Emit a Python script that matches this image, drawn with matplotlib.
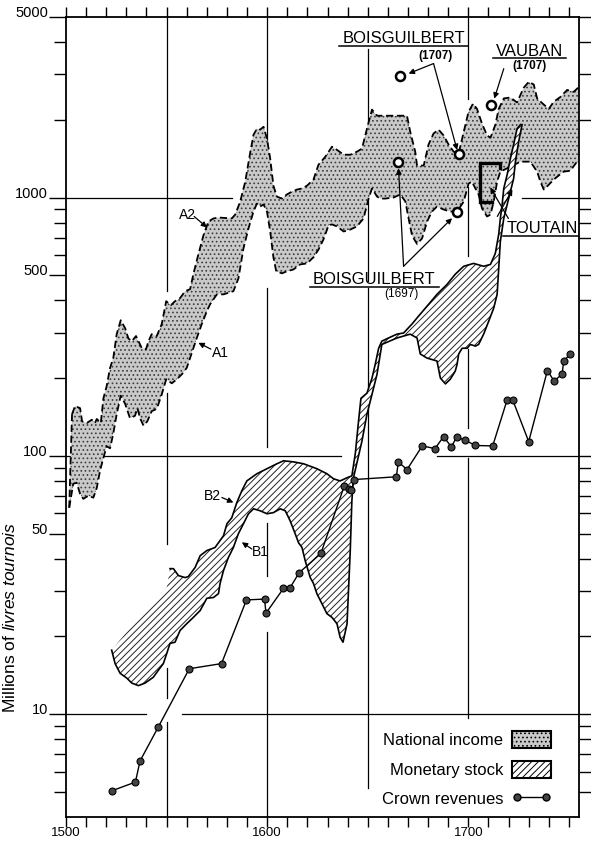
import numpy as np
import matplotlib
matplotlib.use('Agg')
import matplotlib.pyplot as plt
from matplotlib.patches import Patch
from matplotlib.lines import Line2D
from matplotlib.ticker import FixedLocator, MultipleLocator, NullFormatter, FuncFormatter

plt.rcParams['font.family'] = ['Liberation Sans', 'DejaVu Sans']
plt.rcParams['mathtext.fontset'] = 'custom'
plt.rcParams['mathtext.rm'] = 'Liberation Sans'
plt.rcParams['mathtext.it'] = 'Liberation Sans:italic'
plt.rcParams['hatch.linewidth'] = 0.7

# National income, upper estimate (A2), millions of livres tournois
years_a2 = [1503, 1504.5, 1507, 1508, 1510.3, 1512.8, 1514.4, 1515.3, 1517.3, 1518.6,
            1520.2, 1521.9, 1523.5, 1525.2, 1527.2, 1529.4, 1531, 1532.7, 1534.8, 1537.7,
            1539.8, 1541, 1542.6, 1545.1, 1547.6, 1549.8, 1552.1, 1554.2, 1556.7, 1559.2,
            1561.7, 1563.3, 1565.8, 1568.3, 1570.8, 1573.3, 1575.8, 1582.4, 1584.1, 1586.6,
            1589.1, 1591.5, 1593.2, 1594.9, 1596.5, 1598.2, 1599.9, 1601.5, 1603.1, 1604.8,
            1607.3, 1609.8, 1612.3, 1614.8, 1617.3, 1619.8, 1623, 1625.5, 1628.9, 1632.2,
            1634.7, 1638, 1641.3, 1644.6, 1647.1, 1649.6, 1652.1, 1654.6, 1657.9, 1662.8,
            1669.5, 1671.1, 1673.6, 1674.5, 1677.8, 1680.2, 1682.7, 1685.2, 1687.7, 1690.2,
            1692.7, 1695.2, 1697.7, 1700.1, 1702.3, 1704.3, 1706.8, 1709.3, 1711, 1713.4,
            1715.1, 1717.6, 1720.9, 1724.2, 1727.5, 1730, 1732.5, 1734.2, 1737.5, 1740,
            1742.4, 1745.8, 1749.1, 1752.4, 1755]
income_a2 = [145, 156, 153, 136, 134, 138, 134, 139, 134, 167,
             186, 219, 239, 296, 335, 312, 285, 278, 291, 261,
             259, 278, 296, 291, 324, 397, 383, 397, 408, 434,
             442, 505, 603, 713, 808, 830, 837, 830, 859, 965,
             1153, 1483, 1750, 1847, 1832, 1879, 1690, 1416, 1112, 1009,
             991, 1028, 1054, 1074, 1084, 1112, 1173, 1340, 1439, 1573,
             1530, 1465, 1465, 1505, 1546, 1847, 2190, 2074, 2074, 2074,
             2074, 1797, 1505, 1330, 1330, 1603, 1770, 1832, 1740, 1603,
             1505, 1483, 1797, 2147, 2308, 2205, 1930, 1740, 1705, 1911,
             2205, 2420, 2440, 2334, 2660, 2805, 2740, 2420, 2290, 2205,
             2347, 2453, 2610, 2566, 2683]

# National income, lower estimate (A1)
years_a1 = [1501.6, 1503.6, 1505.3, 1507, 1508.6, 1511.1, 1513.6, 1515.3, 1516.9, 1518.6,
            1520.2, 1521.9, 1523.5, 1525.2, 1527.2, 1529.4, 1531.8, 1534.3, 1535.5, 1536.8,
            1538.5, 1540.4, 1542.6, 1545.1, 1547.6, 1549.8, 1552.6, 1555.1, 1557.6, 1560,
            1562.5, 1565, 1567.5, 1570, 1571.6, 1575, 1578.3, 1583.2, 1585.7, 1588.2,
            1590.7, 1593.2, 1594.9, 1596.5, 1598.2, 1599.9, 1601.5, 1603.1, 1604.5, 1607.3,
            1609.8, 1613.1, 1616.4, 1619.8, 1623, 1625.5, 1628, 1630.5, 1632.2, 1634.7,
            1638, 1641.3, 1644.6, 1647.9, 1650.4, 1652.1, 1654.6, 1656.2, 1658.7, 1662.8,
            1666.2, 1668.7, 1670.3, 1672, 1674.5, 1677, 1679.5, 1681.9, 1684.4, 1687.7,
            1691, 1694.4, 1697.7, 1700.1, 1701.8, 1703.5, 1705.1, 1706.8, 1709.3, 1711,
            1712.6, 1714.3, 1715.9, 1720.9, 1725.9, 1730.8, 1734.2, 1735.8, 1737.5, 1740,
            1742.4, 1744.9, 1747.4, 1750.7, 1754, 1755]
income_a1 = [63, 78, 78.7, 71.3, 68.2, 70.1, 68.9, 75.2, 87.5, 98.2,
             109, 107, 122, 145, 171, 159, 140, 143, 153, 140,
             131, 136, 149, 152, 173, 198, 191, 198, 207, 219,
             250, 286, 324, 363, 386, 422, 422, 434, 486, 635,
             759, 883, 948, 923, 940, 883, 739, 587, 518, 509,
             518, 527, 551, 556, 587, 629, 689, 780, 787, 773,
             739, 752, 773, 830, 991, 1084, 1009, 991, 991, 1000,
             1028, 965, 830, 713, 661, 695, 808, 883, 923, 899,
             883, 883, 965, 1132, 1153, 1084, 1028, 907, 845, 859,
             965, 1153, 1260, 1317, 1377, 1377, 1260, 1153, 1074, 1122,
             1173, 1217, 1260, 1270, 1377, 1350]

# Monetary stock, upper estimate (B2)
years_b2 = [1522.7, 1533.5, 1541.8, 1550.1, 1551.7, 1553.4, 1555.9, 1559.2, 1560.8, 1564.2,
            1566.7, 1570, 1574.1, 1578.3, 1580, 1582.4, 1584.9, 1587.4, 1589.9, 1594.9,
            1599.9, 1604.8, 1608.1, 1613.1, 1618.1, 1624.7, 1629.7, 1633, 1636.3, 1639.7,
            1642.1, 1643.8, 1645.4, 1646.6, 1649.6, 1652.1, 1653.7, 1655.4, 1657, 1660.3,
            1664.5, 1667.8, 1672, 1675.3, 1679.5, 1684.4, 1689.4, 1693.5, 1697.7, 1702.6,
            1707.6, 1711, 1713.4, 1715.1, 1715.9, 1716.8, 1717.6, 1719.3, 1720.9, 1722.5,
            1724.2, 1725.9]
stock_b2 = [17.7, 22.4, 26.4, 30.9, 36.6, 36.6, 34.4, 33.8, 34.1, 37,
            41.1, 43, 44.2, 49.1, 54.6, 57.6, 65.9, 73.3, 80, 85.3,
            89.2, 93.2, 95.7, 94.8, 93.2, 89.2, 85.3, 81.5, 80, 82.3,
            83.7, 102, 136, 167, 175, 200, 226, 261, 278, 286,
            296, 299, 324, 348, 380, 422, 461, 505, 542, 556,
            542, 551, 608, 722, 830, 940, 1084, 1228, 1416, 1603,
            1847, 1916]

# Monetary stock, lower estimate (B1)
years_b1 = [1522.7, 1524.4, 1526.9, 1530.2, 1532.7, 1536, 1539.3, 1543.4, 1545.9, 1548.4, 1550.1,
            1551.7, 1554.2, 1556.7, 1560, 1563.3, 1566.7, 1570, 1573.3, 1575.8, 1576.6,
            1578.3, 1580.7, 1583.2, 1585.7, 1588.2, 1590.7, 1593.2, 1596.5, 1599.9, 1603.1,
            1606.5, 1609, 1611.4, 1613.9, 1615.6, 1617.3, 1618.9, 1621.4, 1623, 1624.7,
            1627.2, 1629.7, 1632.2, 1634.7, 1636.3, 1637.7, 1639.7, 1641.3, 1642.1, 1642.9,
            1647.1, 1649.6, 1652.1, 1654.6, 1657, 1664.5, 1671.1, 1674.5, 1676.1, 1679.5,
            1684.4, 1686.1, 1688.6, 1691, 1693.5, 1694.4, 1695.2, 1696.9, 1699.4, 1701,
            1703.5, 1705.1, 1707.6, 1710.1, 1712.6, 1714.3, 1715.1, 1715.9, 1717.6, 1719.3,
            1720.9, 1722.5, 1723.4, 1725, 1726.7]
stock_b1 = [17.7, 15.7, 14.4, 13.8, 13.2, 12.9, 13.2, 13.9, 14.8, 15.7, 17.2,
            18.8, 19, 21.1, 22.4, 23.7, 25.2, 28.1, 28.3, 29.3, 32.1,
            36, 40.4, 44.2, 50, 54.6, 59.7, 62.4, 61.3, 59.7, 60.3,
            62.4, 61.3, 56.1, 50, 46.1, 44.2, 39.3, 33.8, 32.1, 29.3,
            26.8, 24.5, 23.7, 22.4, 19.8, 19, 22.4, 43, 67, 82.3,
            114, 145, 173, 207, 270, 286, 296, 286, 248, 239,
            233, 200, 190, 198, 213, 226, 248, 261, 261, 270,
            266, 270, 296, 332, 373, 422, 532, 676, 830, 940,
            1054, 1184, 1377, 1644, 1916]

# Crown revenues
years_crown = [1522.7, 1534.5, 1536.8, 1545.8, 1561.3, 1577.3, 1589.7, 1598.7, 1599.4, 1608.1,
               1611.4, 1615.9, 1626.7, 1638.3, 1640.6, 1641.9, 1643.4, 1664.2, 1665.2, 1669.5,
               1677.1, 1683.4, 1687.7, 1691.5, 1694.2, 1698.4, 1703.5, 1712.1, 1719.2, 1722,
               1730, 1739.3, 1742.6, 1746.6, 1747.4, 1750.7]
crown = [5.05, 5.46, 6.59, 8.9, 15.0, 15.7, 27.7, 27.9, 24.6, 30.7,
         30.9, 35.3, 41.9, 76.4, 74.3, 73.7, 81, 83, 94.8, 88.5,
         109.3, 106.7, 118.8, 108.4, 118, 115, 109.7, 109.3, 164, 165,
         113.6, 214, 195, 207, 233, 248]

# contemporary estimates of national income
boisguilbert_1707 = ([1666.2, 1695.2], [2958, 1469])
boisguilbert_1697 = ([1665, 1694.4], [1377, 877])
vauban_1707 = ([1711.4], [2281])
toutain_years = [1705.6, 1715.9]
toutain_range = [959, 1365]

fig = plt.figure(figsize=(5.91, 8.41), dpi=100)
ax = fig.add_axes([66 / 591, 1 - 817 / 841, 513 / 591, 800 / 841])
ax.set_yscale('log')
ax.set_xlim(1500, 1755)
ax.set_ylim(4, 5000)

# broken reference lines
hgrid = {1000: [(1500, 1582.6), (1726.9, 1755)],
         100: [(1500, 1636.5), (1684.4, 1755)],
         10: [(1500, 1540), (1557.6, 1755)]}
vgrid = {1550: [(434, 5000), (45.7, 175), (11.6, 15.1), (4, 9.3)],
         1600: [(1549, 5000), (108, 447), (34.4, 55.2), (4, 20.8)],
         1650: [(474, 3767), (5.2, 447)],
         1700: [(2416, 5000), (592, 1102), (128.5, 259), (9.7, 98.5)]}
for yv, segs in hgrid.items():
    for x0, x1 in segs:
        ax.plot([x0, x1], [yv, yv], color='black', lw=0.9, zorder=1)
for xv, segs in vgrid.items():
    for y0, y1 in segs:
        ax.plot([xv, xv], [y0, y1], color='black', lw=0.9, zorder=1)

dash = (0, (4, 2))
stipple = '#c9c9c9'

# national income band
ax.fill(np.r_[years_a2, years_a1[::-1]], np.r_[income_a2, income_a1[::-1]],
        facecolor=stipple, edgecolor='#3c3c3c', hatch='....', linewidth=0, zorder=2)
ax.plot(years_a2, income_a2, color='black', lw=1.3, ls=dash, zorder=3)
ax.plot(years_a1, income_a1, color='black', lw=1.3, ls=dash, zorder=3)
ax.plot([years_a1[0], years_a2[0]], [income_a1[0], income_a2[0]], color='black', lw=1.3, ls=dash, zorder=3)

# monetary stock band
ax.fill(np.r_[years_b2, years_b1[::-1]], np.r_[stock_b2, stock_b1[::-1]],
        facecolor='white', edgecolor='#222222', hatch='/////', linewidth=0, zorder=4)
b2_start = 4
ax.plot(years_b2[b2_start:], stock_b2[b2_start:], color='black', lw=1.2, zorder=5)
ax.plot(years_b1, stock_b1, color='black', lw=1.2, zorder=5)

# crown revenues
ax.plot(years_crown, crown, color='black', lw=1, marker='o', ms=5,
        mfc='#444444', mec='black', mew=0.8, zorder=6)

# estimates by contemporaries
for xs, ys in (boisguilbert_1707, boisguilbert_1697, vauban_1707):
    ax.plot(xs, ys, 'o', ms=6.5, mfc='white', mec='black', mew=1.8, zorder=7)
ax.plot([toutain_years[1] - 4.1, toutain_years[0], toutain_years[0], toutain_years[1], toutain_years[1]],
        [toutain_range[0], toutain_range[0], toutain_range[1], toutain_range[1], 1297],
        color='black', lw=2.4, zorder=7, solid_joinstyle='miter')

arrow = dict(arrowstyle='-|>', lw=0.9, color='black', mutation_scale=8,
             shrinkA=0, shrinkB=0)


def pointer(tail, head):
    ax.annotate('', xy=head, xytext=tail, arrowprops=arrow, zorder=8)


# curve labels
for txt, pos in (('A2', (1560.2, 859)), ('A1', (1576.6, 250)),
                 ('B2', (1572.9, 70.2)), ('B1', (1596.8, 42.4))):
    ax.text(*pos, txt, fontsize=10, ha='center', va='center', zorder=8)
pointer((1563.7, 845), (1570.1, 766))
pointer((1572, 259), (1565.8, 274))
pointer((1577.5, 69), (1583.2, 66))
pointer((1592.4, 43.6), (1587.4, 46.3))

pointer((1682.7, 3302), (1670.3, 3020))
pointer((1682.7, 3302), (1694.4, 1528))
pointer((1717.6, 3155), (1712.9, 2416))
pointer((1667.8, 542), (1665.3, 1297))
pointer((1667.8, 542), (1691.9, 832))
pointer((1719.9, 830), (1710.9, 1094))
pointer((1714.4, 845), (1721.9, 1075))

fig.canvas.draw()
renderer = fig.canvas.get_renderer()


def underlined(x, y, txt, size=12):
    t = ax.text(x, y, txt, fontsize=size, ha='center', va='baseline', zorder=8)
    bb = t.get_window_extent(renderer)
    bx, by = ax.transData.transform((x, y))
    inv = ax.transData.inverted()
    (ux0, uy), (ux1, _) = inv.transform([(bb.x0 - 3, by - 2.5), (bb.x1 + 3, by - 2.5)])
    ax.plot([ux0, ux1], [uy, uy], color='black', lw=1.1, zorder=8)


underlined(1667.9, 3955, 'BOISGUILBERT')
ax.text(1683.6, 3443, '(1707)', fontsize=8.5, fontweight='bold', ha='center', va='baseline')
underlined(1730.3, 3532, 'VAUBAN')
ax.text(1730.3, 3141, '(1707)', fontsize=8.5, fontweight='bold', ha='center', va='baseline')
underlined(1653.3, 461, 'BOISGUILBERT')
ax.text(1666.7, 411, '(1697)', fontsize=8.5, ha='center', va='baseline')
underlined(1736.6, 728, 'TOUTAIN')

# axes and ticks
for s in ax.spines.values():
    s.set_linewidth(1.3)
ax.xaxis.set_major_locator(MultipleLocator(10))
ax.xaxis.set_major_formatter(FuncFormatter(lambda v, p: f'{v:.0f}' if round(v) % 100 == 0 else ''))
ax.yaxis.set_major_locator(FixedLocator([10, 50, 100, 500, 1000, 5000]))
ax.yaxis.set_major_formatter(FuncFormatter(lambda v, p: f'{v:.0f}'))
ax.yaxis.set_minor_locator(FixedLocator([5, 6, 7, 8, 9, 20, 30, 40, 60, 70, 80, 90,
                                         200, 300, 400, 600, 700, 800, 900, 2000, 3000, 4000]))
ax.yaxis.set_minor_formatter(NullFormatter())
ax.tick_params(axis='x', which='major', direction='out', length=7, width=1,
               top=True, labelsize=9.5, pad=0)
ax.tick_params(axis='y', which='major', direction='out', length=12, width=1,
               right=True, labelsize=10.5, pad=1)
ax.tick_params(axis='y', which='minor', direction='out', length=9, width=1, right=True)
for lab in ax.get_yticklabels():
    lab.set_verticalalignment('baseline')

ax.set_ylabel(r'Millions of $\it{livres\ tournois}$', fontsize=12.5)
ax.yaxis.set_label_coords(-0.094, 0.249)

handles = [Patch(facecolor=stipple, edgecolor='black', hatch='....', lw=1.5),
           Patch(facecolor='white', edgecolor='black', hatch='/////', lw=1.5),
           Line2D([], [], color='black', lw=1, marker='o', ms=5, mfc='#444444', mec='black')]
ax.legend(handles, ['National income', 'Monetary stock', 'Crown revenues'],
          loc='lower right', bbox_to_anchor=(0.945, 0.012), frameon=False,
          markerfirst=False, fontsize=12, handlelength=2.3, handleheight=1.2,
          labelspacing=0.75, handletextpad=0.55, borderaxespad=0, borderpad=0,
          numpoints=2)

fig.savefig('out.png', dpi=100)
